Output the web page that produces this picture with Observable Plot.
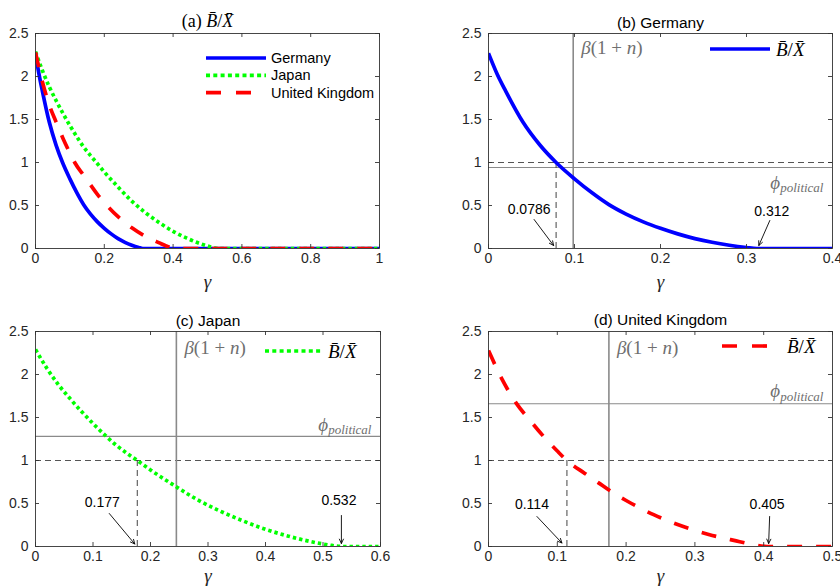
<!DOCTYPE html>
<html>
<head>
<meta charset="utf-8">
<script src="https://cdn.jsdelivr.net/npm/d3@7"></script>
<script src="https://cdn.jsdelivr.net/npm/@observablehq/plot@0.6"></script>
<style>
  body { margin: 0; background: #fff; }
  #fig { position: relative; width: 840px; height: 586px; overflow: hidden; background: #fff; }
  #fig svg { position: absolute; }
</style>
</head>
<body>
<div id="fig"></div>
<script>
// ---------------- data ----------------
const yTicks  = [0, 0.5, 1, 1.5, 2, 2.5];
const xTicksA = [0, 0.2, 0.4, 0.6, 0.8, 1];
const xTicksB = [0, 0.1, 0.2, 0.3, 0.4];
const xTicksC = [0, 0.1, 0.2, 0.3, 0.4, 0.5, 0.6];
const xTicksD = [0, 0.1, 0.2, 0.3, 0.4, 0.5];

const countries = ["Germany", "Japan", "United Kingdom"];

const gammaGermany = [0, 0.01, 0.02, 0.04, 0.06, 0.0786, 0.10, 0.12, 0.14, 0.16, 0.18, 0.20, 0.22, 0.24, 0.26, 0.28, 0.30, 0.312, 1.0];
const ratioGermany = [2.27, 2.03, 1.83, 1.47, 1.20, 1.00, 0.81, 0.65, 0.51, 0.40, 0.31, 0.235, 0.17, 0.115, 0.072, 0.038, 0.012, 0, 0];

const gammaJapan = [0, 0.02, 0.04, 0.06, 0.08, 0.10, 0.12, 0.14, 0.16, 0.177, 0.20, 0.24, 0.28, 0.32, 0.36, 0.40, 0.44, 0.48, 0.51, 0.532, 1.0];
const ratioJapan = [2.29, 2.07, 1.88, 1.72, 1.57, 1.43, 1.30, 1.18, 1.08, 1.00, 0.89, 0.715, 0.55, 0.415, 0.30, 0.20, 0.12, 0.055, 0.018, 0, 0];

const gammaUK = [0, 0.02, 0.04, 0.06, 0.08, 0.10, 0.114, 0.14, 0.16, 0.18, 0.20, 0.24, 0.28, 0.32, 0.36, 0.38, 0.405, 1.0];
const ratioUK = [2.28, 1.94, 1.67, 1.47, 1.28, 1.11, 1.00, 0.85, 0.74, 0.63, 0.535, 0.37, 0.24, 0.14, 0.065, 0.03, 0, 0];

const betaOnePlusN = [0.0985, 0.245, 0.175];
const phiPolitical = [0.942, 1.28, 1.66];
const gammaAtOne   = [0.0786, 0.177, 0.114];
const gammaAtZero  = [0.312, 0.532, 0.405];

// ---------------- build tables ----------------
const seriesData = {
  "Germany": gammaGermany.map((g, i) => ({gamma: g, ratio: ratioGermany[i]})),
  "Japan": gammaJapan.map((g, i) => ({gamma: g, ratio: ratioJapan[i]})),
  "United Kingdom": gammaUK.map((g, i) => ({gamma: g, ratio: ratioUK[i]}))
};

// ---------------- styles ----------------
const W = 420, H = 293;
const SANS = "Liberation Sans, Arial, Helvetica, sans-serif";
const SERIF = "Liberation Serif, Times New Roman, serif";
const lineStyle = {
  "Germany": {stroke: "#0000ff", strokeWidth: 3.7},
  "Japan": {stroke: "#00ff00", strokeWidth: 3.7, strokeDasharray: "3.4,3"},
  "United Kingdom": {stroke: "#ff0000", strokeWidth: 3.7, strokeDasharray: "15,14"}
};
const legendDash = {"Germany": null, "Japan": "4,3.3", "United Kingdom": "15,15"};

function richen(svg, match, parts) {
  d3.select(svg).selectAll("text")
    .filter(function () { return this.textContent === match; })
    .each(function () {
      const t = d3.select(this);
      t.text(null);
      parts.forEach(p => {
        const s = t.append("tspan").text(p.t).attr("font-style", p.i ? "italic" : "normal");
        if (p.size) s.attr("font-size", p.size);
        if (p.dy) s.attr("dy", p.dy);
      });
    });
}

function makePanel(cfg) {
  const [mt, mr, mb, ml] = cfg.margin;
  const fw = W - ml - mr, fh = H - mt - mb;
  const xMax = cfg.xTicks[cfg.xTicks.length - 1];
  const kx = fw / xMax, ky = fh / 2.5;
  const marks = [];

  if (cfg.idx != null) {
    const i = cfg.idx;
    marks.push(
      Plot.ruleY([1], {stroke: "#555", strokeWidth: 1, strokeDasharray: "6,4"}),
      Plot.ruleY([phiPolitical[i]], {stroke: "#8a8a8a", strokeWidth: 1.2}),
      Plot.ruleX([betaOnePlusN[i]], {stroke: "#8a8a8a", strokeWidth: 1.6}),
      Plot.ruleX([gammaAtOne[i]], {y1: () => 0, y2: () => 1, stroke: "#444", strokeWidth: 1, strokeDasharray: "6,4"})
    );
  }

  cfg.series.forEach(name => {
    marks.push(Plot.line(seriesData[name], {x: "gamma", y: "ratio", curve: "monotone-x", clip: true, strokeLinecap: "butt", strokeLinejoin: "round", ...lineStyle[name]}));
  });

  if (cfg.idx != null) {
    const i = cfg.idx;
    const pts = [
      {gx: gammaAtOne[i], label: String(gammaAtOne[i]), o: cfg.arrowOne},
      {gx: gammaAtZero[i], label: String(gammaAtZero[i]), o: cfg.arrowZero}
    ];
    const arrows = pts.map(p => ({
      x1: p.gx + p.o.tail[0] / kx, y1: -p.o.tail[1] / ky,
      x2: p.gx + p.o.tip[0] / kx, y2: -p.o.tip[1] / ky
    }));
    marks.push(
      Plot.arrow(arrows, {x1: "x1", y1: "y1", x2: "x2", y2: "y2", stroke: "#000", strokeWidth: 0.9, headLength: 8, headAngle: 50}),
      ...pts.map(p => Plot.text([p], {x: "gx", y: () => 0, text: "label", dx: p.o.text[0], dy: p.o.text[1], fontSize: 14, fontFamily: SANS, fill: "#000"})),
      Plot.text([betaOnePlusN[i]], {x: d => d, frameAnchor: "top", lineAnchor: "middle", text: () => "β(1 + n)", textAnchor: "start", dx: 8, dy: cfg.betaDy, fontFamily: SERIF, fontSize: 19, fill: "#6f6f6f"}),
      Plot.text([phiPolitical[i]], {y: d => d, frameAnchor: "right", lineAnchor: "middle", text: () => "ϕpolitical", textAnchor: "end", dx: -9, dy: cfg.phiDy, fontFamily: SERIF, fontSize: 19, fill: "#6f6f6f"})
    );
  }

  marks.push(
    Plot.frame({stroke: "#333", strokeWidth: 0.9}),
    Plot.tickX(cfg.xTicks, {x: d => d, insetTop: fh - 4, stroke: "#333", strokeWidth: 0.9}),
    Plot.tickX(cfg.xTicks, {x: d => d, insetBottom: fh - 4, stroke: "#333", strokeWidth: 0.9}),
    Plot.tickY(yTicks, {y: d => d, insetRight: fw - 4, stroke: "#333", strokeWidth: 0.9}),
    Plot.tickY(yTicks, {y: d => d, insetLeft: fw - 4, stroke: "#333", strokeWidth: 0.9}),
    Plot.axisX(cfg.xTicks, {tickSize: 0, tickPadding: 5, tickFormat: d => String(d), label: null, fontSize: 14, fontFamily: SANS, fill: "#262626"}),
    Plot.axisY(yTicks, {tickSize: 0, tickPadding: 7, tickFormat: d => String(d), label: null, fontSize: 14, fontFamily: SANS, fill: "#262626"}),
    Plot.text(["γ"], {frameAnchor: "bottom", lineAnchor: "middle", text: d => d, dy: cfg.gammaDy, fontFamily: SERIF, fontStyle: "italic", fontSize: 19, fill: "#262626"}),
    Plot.text([cfg.title], {frameAnchor: "top", lineAnchor: "middle", text: d => d, dy: cfg.titleDy, fontFamily: cfg.titleSerif ? SERIF : SANS, fontSize: cfg.titleSerif ? 18 : 15.5, fill: "#000"})
  );

  const svg = Plot.plot({
    width: W, height: H,
    marginTop: mt, marginRight: mr, marginBottom: mb, marginLeft: ml,
    x: {domain: [0, xMax]},
    y: {domain: [0, 2.5]},
    style: {background: "#fff", fontFamily: SANS, overflow: "visible"},
    marks
  });
  svg.style.left = cfg.left + "px";
  svg.style.top = cfg.top + "px";

  // rich math text
  richen(svg, "β(1 + n)", [{t: "β", i: true}, {t: "(1 + "}, {t: "n", i: true}, {t: ")"}]);
  richen(svg, "ϕpolitical", [{t: "ϕ", i: true}, {t: "political", i: true, size: 13, dy: "0.3em"}]);
  richen(svg, "(a) B̄/X̄", [{t: "(a) "}, {t: "B̄", i: true}, {t: "/"}, {t: "X̄", i: true}]);

  // legend
  const lg = d3.select(svg).append("g").attr("text-anchor", "start");
  cfg.legend.items.forEach((name, k) => {
    const y = cfg.legend.y + k * cfg.legend.step;
    const st = lineStyle[name];
    lg.append("line")
      .attr("x1", cfg.legend.x1).attr("x2", cfg.legend.x2).attr("y1", y).attr("y2", y)
      .attr("stroke", st.stroke).attr("stroke-width", st.strokeWidth)
      .attr("stroke-dasharray", legendDash[name]);
    const t = lg.append("text").attr("x", cfg.legend.tx).attr("y", y).attr("dy", "0.35em").attr("text-anchor", "start");
    if (cfg.legend.math) {
      t.attr("font-family", SERIF).attr("font-size", 19).attr("font-style", "italic").attr("fill", "#000");
      t.append("tspan").text("B̄");
      t.append("tspan").attr("font-style", "normal").text("/");
      t.append("tspan").text("X̄");
    } else {
      t.attr("font-family", SANS).attr("font-size", 14.5).attr("fill", "#000").text(name);
    }
  });

  document.getElementById("fig").appendChild(svg);
}

makePanel({
  left: 0, top: 0, margin: [33, 41, 45, 35], xTicks: xTicksA,
  title: "(a) B̄/X̄", titleSerif: true, titleDy: -12, gammaDy: 33,
  series: countries,
  legend: {items: countries, x1: 206, x2: 266, y: 58, step: 17.3, tx: 271, math: false}
});
makePanel({
  left: 420, top: 0, margin: [33, 8, 45, 68], xTicks: xTicksB, idx: 0,
  title: "(b) Germany", titleDy: -10, betaDy: 14, phiDy: 15, gammaDy: 33,
  arrowOne: {tail: [-22, -29], tip: [-2.5, -3], text: [-27, -39]},
  arrowZero: {tail: [13, -28], tip: [2, -3], text: [15, -37]},
  series: ["Germany"],
  legend: {items: ["Germany"], x1: 290, x2: 350, y: 49, step: 0, tx: 356, math: true}
});
makePanel({
  left: 0, top: 293, margin: [38, 40, 40, 35], xTicks: xTicksC, idx: 1,
  title: "(c) Japan", titleDy: -10, betaDy: 16, phiDy: -12, gammaDy: 29,
  arrowOne: {tail: [-28, -33], tip: [-2.5, -2.5], text: [-35, -44]},
  arrowZero: {tail: [0, -31], tip: [0, -3], text: [-2.5, -46]},
  series: ["Japan"],
  legend: {items: ["Japan"], x1: 265, x2: 323, y: 58, step: 0, tx: 328, math: true}
});
makePanel({
  left: 420, top: 293, margin: [38, 8, 40, 68], xTicks: xTicksD, idx: 2,
  title: "(d) United Kingdom", titleDy: -11, betaDy: 16, phiDy: -13, gammaDy: 29,
  arrowOne: {tail: [-30, -30], tip: [-5, -3.5], text: [-35, -42]},
  arrowZero: {tail: [2.5, -30], tip: [1.5, -3], text: [0, -42]},
  series: ["United Kingdom"],
  legend: {items: ["United Kingdom"], x1: 302, x2: 347, y: 53, step: 0, tx: 367, math: true}
});
</script>
</body>
</html>
